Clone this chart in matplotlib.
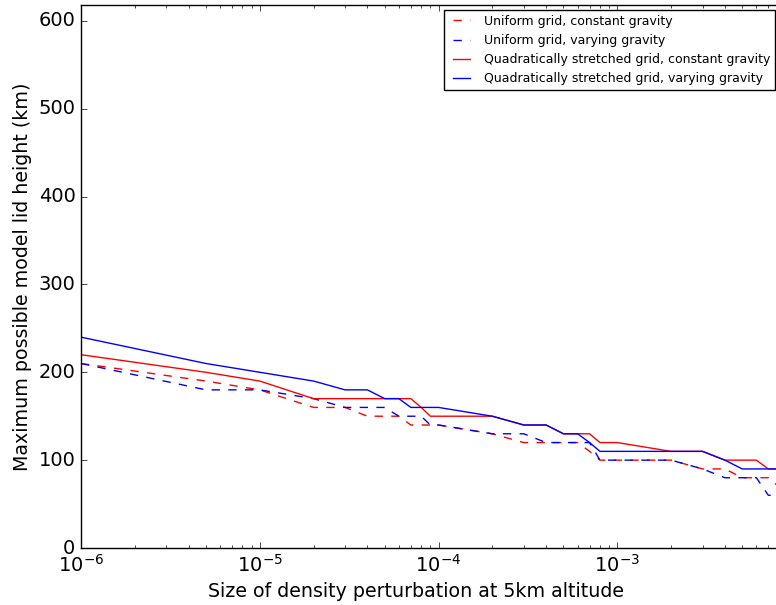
import matplotlib
matplotlib.use("Agg")
import matplotlib.pyplot as plt

# density perturbation sizes at which the lid height was evaluated
perturbation = [
    1e-6, 5e-6,
    1e-5, 2e-5, 3e-5, 4e-5, 5e-5, 6e-5, 7e-5, 8e-5, 9e-5,
    1e-4, 2e-4, 3e-4, 4e-4, 5e-4, 6e-4, 7e-4, 8e-4, 9e-4,
    1e-3, 2e-3, 3e-3, 4e-3, 5e-3, 6e-3, 7e-3, 8e-3, 9e-3,
    1e-2,
]

# maximum lid height (km) for each grid / gravity configuration
uniform_const = [
    210, 190,
    180, 160, 160, 150, 150, 150, 140, 140, 140,
    140, 130, 120, 120, 120, 120, 110, 100, 100,
    100, 100, 90, 90, 80, 80, 80, 70, 70,
    70,
]
uniform_vary = [
    210, 180,
    180, 170, 160, 160, 160, 150, 150, 150, 140,
    140, 130, 130, 120, 120, 120, 120, 100, 100,
    100, 100, 90, 80, 80, 80, 60, 60, 60,
    60,
]
stretched_const = [
    220, 200,
    190, 170, 170, 170, 170, 170, 170, 160, 150,
    150, 150, 140, 140, 130, 130, 130, 120, 120,
    120, 110, 110, 100, 100, 100, 90, 90, 90,
    90,
]
stretched_vary = [
    240, 210,
    200, 190, 180, 180, 170, 170, 160, 160, 160,
    160, 150, 140, 140, 130, 130, 120, 110, 110,
    110, 110, 110, 100, 90, 90, 90, 90, 90,
    90,
]
decade_ticks = [1e-6, 1e-5, 1e-4, 1e-3]

plt.style.use("classic")
plt.rcParams["figure.facecolor"] = "white"
plt.rcParams["savefig.facecolor"] = "white"

fig = plt.figure(figsize=(7.76, 6.05), dpi=100)
# axes runs slightly past the right edge of the canvas
ax = fig.add_axes([0.1044, 0.0942, 0.9214, 0.8975])

ax.semilogx(perturbation, uniform_const, "r--", lw=1.0,
            label="Uniform grid, constant gravity")
ax.semilogx(perturbation, uniform_vary, "b--", lw=1.0,
            label="Uniform grid, varying gravity")
ax.semilogx(perturbation, stretched_const, "r-", lw=1.0,
            label="Quadratically stretched grid, constant gravity")
ax.semilogx(perturbation, stretched_vary, "b-", lw=1.0,
            label="Quadratically stretched grid, varying gravity")

ax.set_xlim(1e-6, 1e-2)
ax.set_ylim(0, 618)
ax.set_xticks(decade_ticks)
ax.set_yticks([0, 100, 200, 300, 400, 500, 600])
ax.tick_params(labelsize=14)
ax.set_xlabel("Size of density perturbation at 5km altitude", fontsize=13.7)
ax.set_ylabel("Maximum possible model lid height (km)", fontsize=13.7)
ax.xaxis.label.set_x(0.4685)

ax.legend(loc="upper right", bbox_to_anchor=(0.999, 0.984),
          bbox_transform=fig.transFigure, borderaxespad=0,
          fontsize=9, handlelength=2.0)

fig.savefig("out.png", dpi=100)
